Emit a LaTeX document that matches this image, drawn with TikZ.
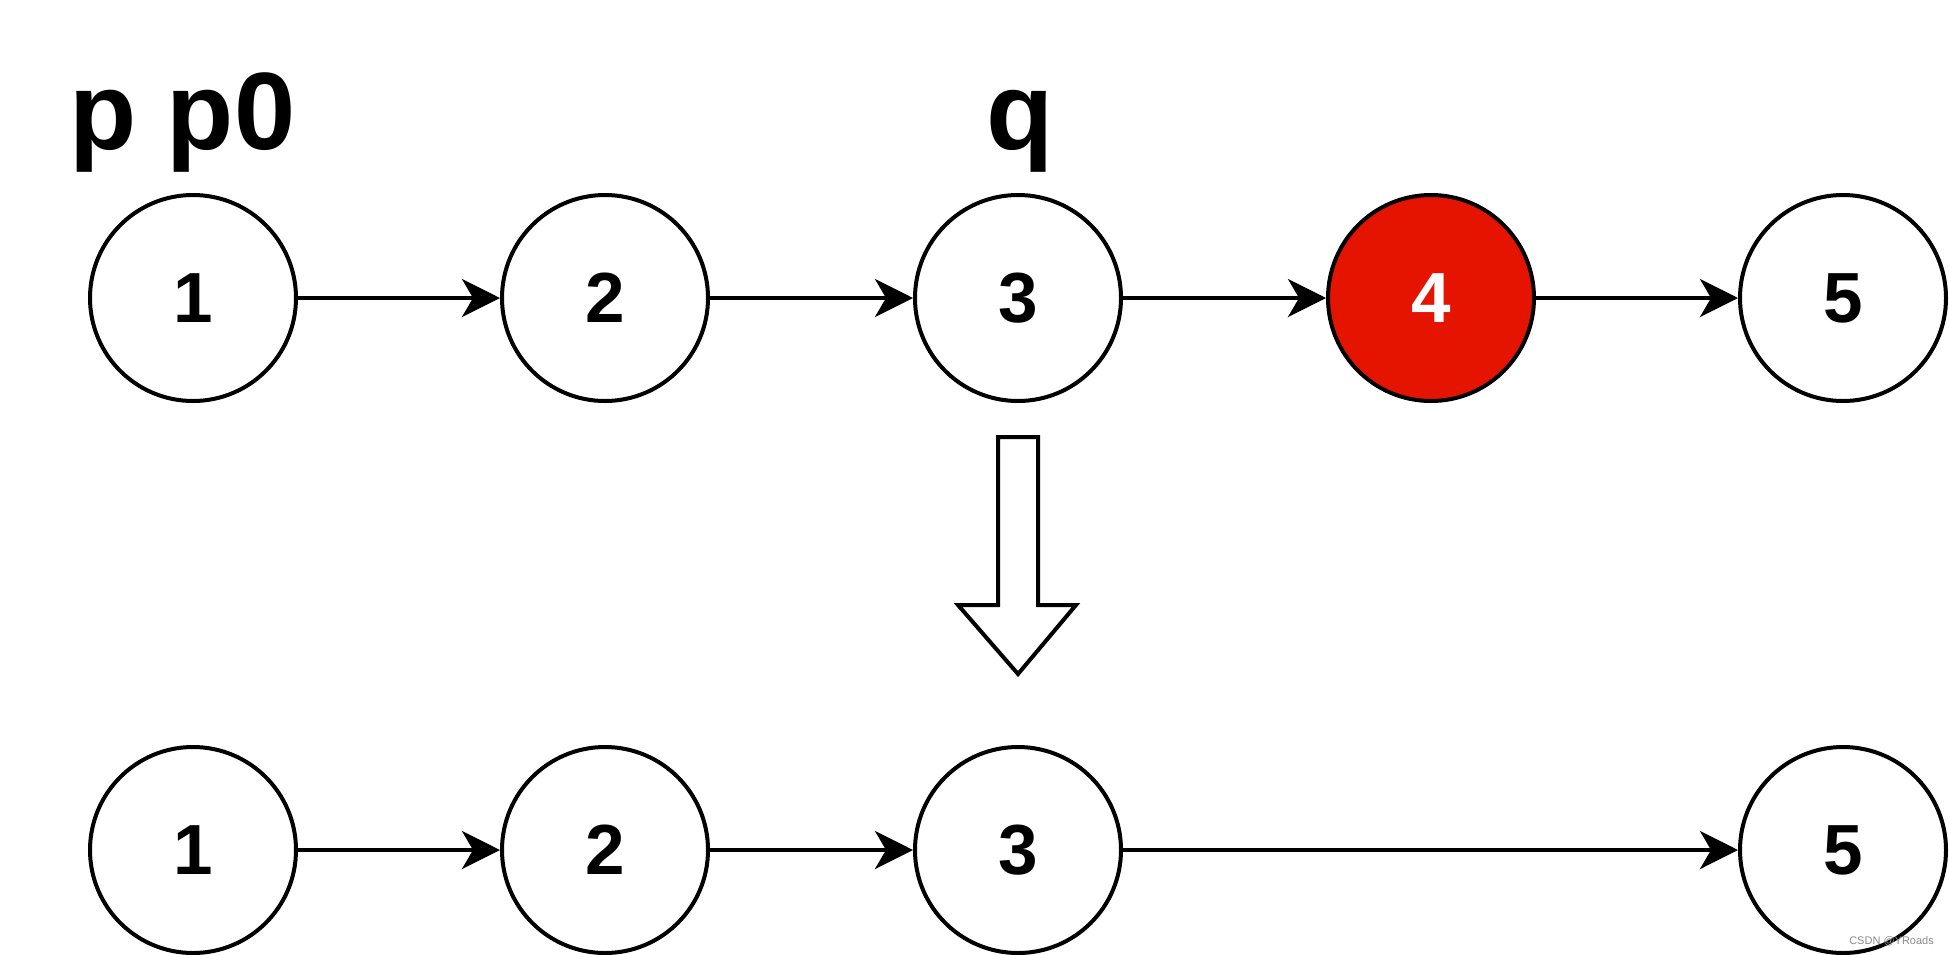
\documentclass[tikz,border=0pt]{standalone}
\usepackage{fontspec}
\setmainfont{Liberation Sans}
\usetikzlibrary{arrows.meta}
\definecolor{nodered}{HTML}{E51400}
\tikzset{
  lnode/.style={circle, draw=black, line width=4pt, minimum size=206pt, inner sep=0pt, fill=white,
    font=\fontsize{71}{71}\selectfont\bfseries},
  rednode/.style={lnode, fill=nodered, text=white},
  link/.style={line width=4pt, -{Stealth[length=38pt, width=38pt, inset=11pt]}},
  ptrlabel/.style={font=\fontsize{110}{110}\selectfont\bfseries, inner sep=0pt},
  bigarrow/.style={draw=black, line width=4pt, fill=white, line join=miter},
}
\begin{document}
\begin{tikzpicture}[x=1pt,y=-1pt]
\useasboundingbox (0,0) rectangle (1949,954);
% top row
\node[lnode] (a1) at (193,298) {1};
\node[lnode] (a2) at (605,298) {2};
\node[lnode] (a3) at (1018,298) {3};
\node[rednode] (a4) at (1431,298) {4};
\node[lnode] (a5) at (1843,298) {5};
\draw[link] (a1) -- (a2);
\draw[link] (a2) -- (a3);
\draw[link] (a3) -- (a4);
\draw[link] (a4) -- (a5);
% labels
\node[ptrlabel, anchor=base west] (lp) at (69,149) {p p0};
\node[ptrlabel, anchor=base] (lq) at (1020,149) {q};
% hollow arrow
\draw[bigarrow] (998,437) -- (1038,437) -- (1038,605) -- (1076,605) -- (1018,674) -- (958,605) -- (998,605) -- cycle;
% bottom row
\node[lnode] (b1) at (193,850) {1};
\node[lnode] (b2) at (605,850) {2};
\node[lnode] (b3) at (1018,850) {3};
\node[lnode] (b5) at (1843,850) {5};
\draw[link] (b1) -- (b2);
\draw[link] (b2) -- (b3);
\draw[link] (b3) -- (b5);
% watermark
\node[font=\fontsize{11}{11}\selectfont, text=black!45, anchor=base east, inner sep=0pt] (wm) at (1934,944) {CSDN @YRoads};
\end{tikzpicture}
\end{document}
